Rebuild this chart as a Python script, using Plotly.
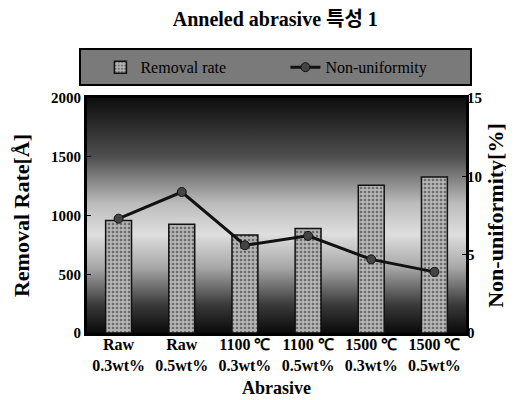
import base64
import plotly.graph_objects as go

categories = ["Raw<br>0.3wt%", "Raw<br>0.5wt%", "1100 ℃<br>0.3wt%",
              "1100 ℃<br>0.5wt%", "1500 ℃<br>0.3wt%", "1500 ℃<br>0.5wt%"]
removal_rate = [957, 926, 833, 890, 1257, 1328]
non_uniformity = [7.3, 9.0, 5.6, 6.2, 4.7, 3.9]
left_ticks = [0, 500, 1000, 1500, 2000]
right_ticks = [0, 5, 10, 15]

SERIF = "Liberation Serif"

# decorative gradient backdrop for the plot area (dark top/bottom, light middle)
svg = """<svg xmlns='http://www.w3.org/2000/svg' width='100' height='100' preserveAspectRatio='none'>
<defs><linearGradient id='g' x1='0' y1='0' x2='0' y2='1'>
<stop offset='0' stop-color='#0e0e0e'/>
<stop offset='0.25' stop-color='#4e4e4e'/>
<stop offset='0.45' stop-color='#bcbcbc'/>
<stop offset='0.58' stop-color='#dedede'/>
<stop offset='0.72' stop-color='#a8a8a8'/>
<stop offset='0.88' stop-color='#3a3a3a'/>
<stop offset='1' stop-color='#0a0a0a'/>
</linearGradient></defs>
<rect width='100' height='100' fill='url(#g)'/></svg>"""
bg_uri = "data:image/svg+xml;base64," + base64.b64encode(svg.encode()).decode()

fig = go.Figure()
fig.add_trace(go.Bar(
    x=categories, y=removal_rate, name="Removal rate",
    marker=dict(color="#8c8c8c", line=dict(color="#111", width=1.5),
                pattern=dict(shape=".", fgcolor="#222", bgcolor="#b5b5b5", solidity=0.35, size=4)),
    width=0.41, yaxis="y",
))
fig.add_trace(go.Scatter(
    x=categories, y=non_uniformity, name="Non-uniformity", yaxis="y2",
    mode="lines+markers",
    line=dict(color="#111", width=3),
    marker=dict(symbol="circle", size=9, color="#444", line=dict(color="#111", width=1)),
))

tickfont = dict(family=SERIF, size=15, color="#000", weight="bold")
titlefont = dict(family=SERIF, size=22, color="#000", weight="bold")

fig.update_layout(
    width=514, height=400,
    margin=dict(l=78, r=56, t=90, b=73),
    font=dict(family=SERIF, color="#000"),
    paper_bgcolor="white",
    plot_bgcolor="rgba(0,0,0,0)",
    title=dict(text="Anneled abrasive 특성 1", x=0.52, xanchor="center", y=0.99, yanchor="top",
               font=dict(family=SERIF + ", Noto Sans CJK KR", size=20, color="#000", weight="bold")),
    images=[dict(source=bg_uri, xref="paper", yref="paper", x=0, y=1, sizex=1, sizey=1,
                 xanchor="left", yanchor="top", sizing="stretch", layer="below")],
    xaxis=dict(
        tickfont=dict(family=SERIF, size=16, color="#000", weight="bold"),
        ticklabelstandoff=-5,
        title=dict(text="Abrasive", font=dict(family=SERIF, size=18, color="#000", weight="bold"), standoff=9),
        showline=True, linecolor="#000", linewidth=3, mirror=True,
        ticks="", showgrid=False,
    ),
    yaxis=dict(
        range=[0, 2000], tickvals=left_ticks, tickfont=tickfont,
        title=dict(text="Removal Rate[Å]", font=titlefont, standoff=16),
        showline=True, linecolor="#000", linewidth=3, mirror=True,
        ticks="inside", ticklen=4, tickcolor="#000", showgrid=False, zeroline=False,
    ),
    yaxis2=dict(
        range=[0, 15], tickvals=right_ticks, tickfont=tickfont, overlaying="y", side="right",
        title=dict(text="Non-uniformity[%]", font=titlefont, standoff=6),
        ticks="inside", ticklen=4, tickcolor="#000", showgrid=False, zeroline=False,
    ),
    legend=dict(
        orientation="h", x=-0.02, xanchor="left", y=1.05, yanchor="bottom",
        bgcolor="#7a7a7a", bordercolor="#000", borderwidth=2,
        font=dict(family="Liberation Serif, serif", size=16, color="#000"),
        title=dict(text="&nbsp;&nbsp;&nbsp;", side="left", font=dict(size=12)),
        entrywidth=140, itemwidth=30,
    ),
    showlegend=True,
)

fig.write_html("out.html")
